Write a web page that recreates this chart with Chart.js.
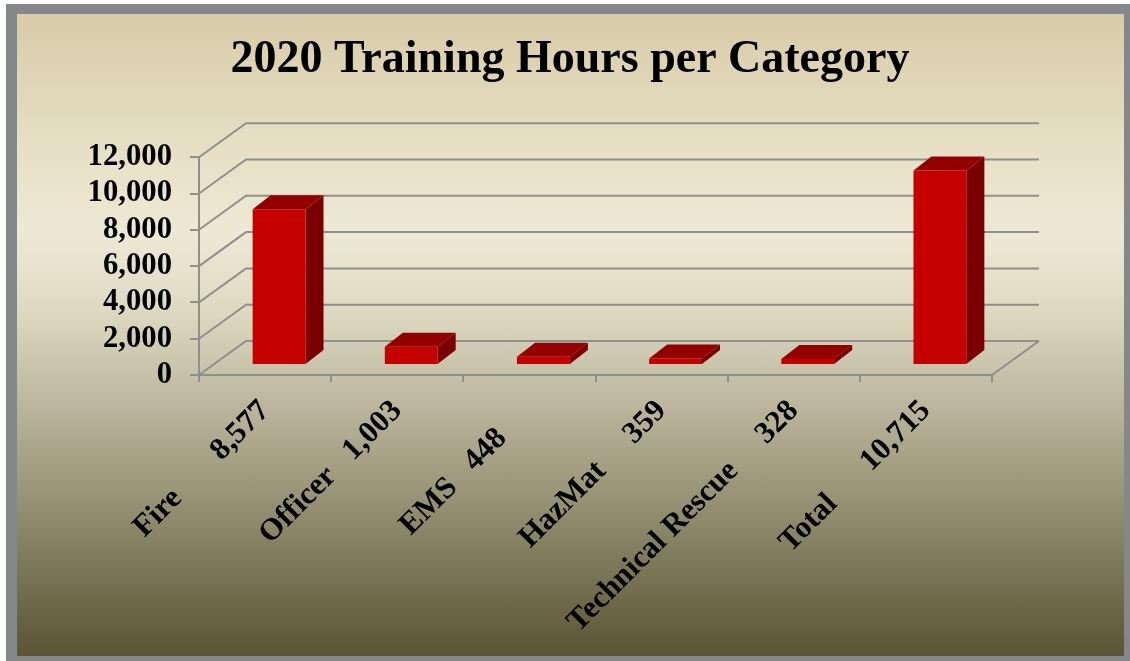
<!DOCTYPE html>
<html>
<head>
<meta charset="utf-8">
<title>2020 Training Hours per Category</title>
<script src="https://cdn.jsdelivr.net/npm/chart.js@4"></script>
<style>
  body { margin: 0; background: #fff; }
  #frame { position: absolute; left: 6px; top: 4px; width: 1124px; height: 657px; background: #85878a; }
  #panel {
    position: absolute; left: 17px; top: 14px; width: 1107px; height: 642px;
    background: linear-gradient(#d8cba8 0%, #e6dfc4 20%, #eee9d5 34%, #dedac2 46%, #bdb89f 60%, #9a9679 74%, #7e7a5c 85%, #5a5433 100%);
  }
  #chart { position: absolute; left: 0; top: 0; }
</style>
</head>
<body>
<div id="frame"></div>
<div id="panel"></div>
<canvas id="chart" width="1130" height="661"></canvas>
<script>
// チャートのデータ
const categories = ["Fire       8,577", "Officer   1,003", "EMS   448     ", "HazMat     359", "Technical Rescue     328", "Total      10,715"];
const hours = [8577, 1003, 448, 359, 328, 10715];
const yTickLabels = ["0", "2,000", "4,000", "6,000", "8,000", "10,000", "12,000"];

const serif = "'Liberation Serif', 'Times New Roman', serif";
const gridColor = "#8f8f8c";

// 奥の壁と床の線
const wallPlugin = {
  id: "wall",
  beforeDatasetsDraw(chart) {
    const ctx = chart.ctx;
    const area = chart.chartArea;
    const dx = 47, dy = -34;
    ctx.save();
    ctx.strokeStyle = gridColor;
    ctx.lineWidth = 2;
    chart.scales.y.ticks.forEach(function(tick) {
      const y = chart.scales.y.getPixelForValue(tick.value);
      ctx.beginPath();
      ctx.moveTo(area.left, y);
      ctx.lineTo(area.left + dx, y + dy);
      ctx.lineTo(area.right + dx, y + dy);
      ctx.stroke();
    });
    ctx.beginPath();
    ctx.moveTo(area.right, area.bottom);
    ctx.lineTo(area.right + dx, area.bottom + dy);
    ctx.stroke();
    ctx.restore();
  }
};

// 棒を床の中央にずらして、上面と側面を足す
const bar3dPlugin = {
  id: "bar3d",
  beforeDatasetDraw(chart) {
    chart.ctx.save();
    chart.ctx.translate(14, -10);
    const ctx = chart.ctx;
    const dx = 18, dy = -14;
    chart.getDatasetMeta(0).data.forEach(function(bar) {
      const left = bar.x - bar.width / 2;
      const right = bar.x + bar.width / 2;
      ctx.fillStyle = "#7a0000";
      ctx.beginPath();
      ctx.moveTo(right, bar.y);
      ctx.lineTo(right + dx, bar.y + dy);
      ctx.lineTo(right + dx, bar.base + dy);
      ctx.lineTo(right, bar.base);
      ctx.closePath();
      ctx.fill();
      ctx.fillStyle = "#930000";
      ctx.beginPath();
      ctx.moveTo(left, bar.y);
      ctx.lineTo(left + dx, bar.y + dy);
      ctx.lineTo(right + dx, bar.y + dy);
      ctx.lineTo(right, bar.y);
      ctx.closePath();
      ctx.fill();
    });
  },
  afterDatasetDraw(chart) {
    chart.ctx.restore();
  }
};

const config = {
  type: "bar",
  data: {
    labels: categories,
    datasets: [{
      data: hours,
      backgroundColor: "#c40000",
      categoryPercentage: 1,
      barPercentage: 0.4
    }]
  },
  options: {
    responsive: false,
    animation: false,
    layout: {
      padding: { left: 10, right: 0, top: 0, bottom: 0 }
    },
    plugins: {
      legend: { display: false },
      tooltip: { enabled: false },
      title: {
        display: true,
        text: "2020 Training Hours per Category",
        color: "#000",
        font: { family: serif, size: 46, weight: "bold" },
        padding: { top: 33, bottom: 69 }
      }
    },
    scales: {
      x: {
        afterFit(scale) { scale.height = 286; },
        grid: { drawOnChartArea: false, color: gridColor, lineWidth: 2, tickLength: 7 },
        border: { color: gridColor, width: 2 },
        ticks: {
          color: "#000",
          font: { family: serif, size: 31, weight: "bold" },
          minRotation: 45,
          maxRotation: 45,
          autoSkip: false,
          padding: 11
        }
      },
      y: {
        min: 0,
        max: 12000,
        afterFit(scale) { scale.width = 189; },
        grid: { drawOnChartArea: false, color: gridColor, lineWidth: 2, tickLength: 9 },
        border: { color: gridColor, width: 2 },
        ticks: {
          stepSize: 2000,
          autoSkip: false,
          color: "#000",
          font: { family: serif, size: 30.7, weight: "bold" },
          padding: 18,
          callback: function(value, index) { return yTickLabels[index]; }
        }
      },
      // 右側の余白を取るだけの空の軸
      rightGap: {
        position: "right",
        afterFit(scale) { scale.width = 138; },
        grid: { display: false },
        border: { display: false },
        ticks: { display: false }
      }
    }
  },
  plugins: [wallPlugin, bar3dPlugin]
};

const chart = new Chart(document.getElementById("chart"), config);
</script>
</body>
</html>
